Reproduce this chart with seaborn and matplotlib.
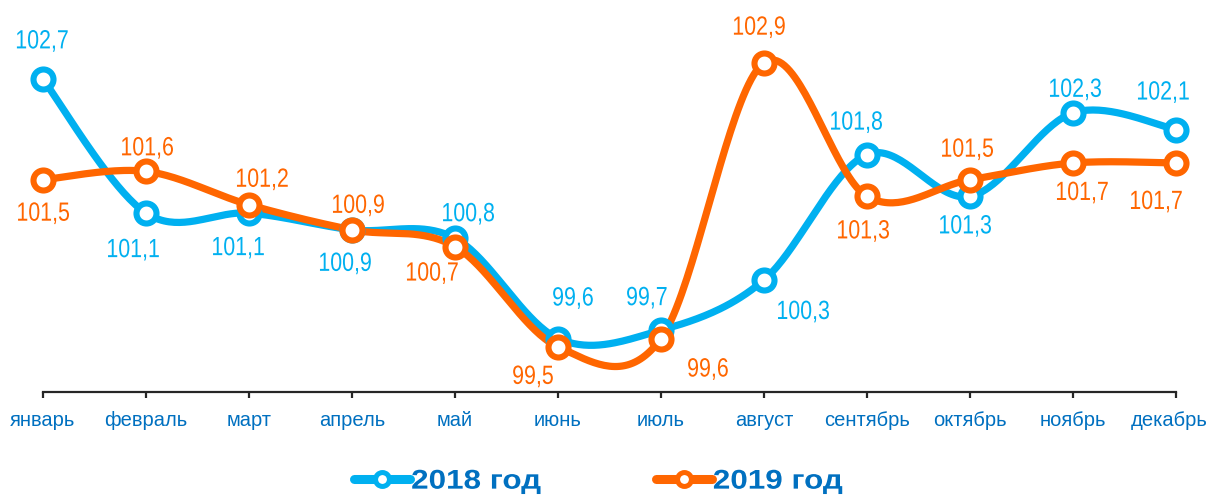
import numpy as np
import pandas as pd
import seaborn as sns
import matplotlib
matplotlib.use("Agg")
import matplotlib.pyplot as plt
from matplotlib.lines import Line2D
from matplotlib.patheffects import AbstractPathEffect
from matplotlib.transforms import Affine2D, ScaledTranslation

# ---- data ----
months = ['январь', 'февраль', 'март', 'апрель', 'май', 'июнь',
          'июль', 'август', 'сентябрь', 'октябрь', 'ноябрь', 'декабрь']
values_2018 = [102.7, 101.1, 101.1, 100.9, 100.8, 99.6, 99.7, 100.3, 101.8, 101.3, 102.3, 102.1]
values_2019 = [101.5, 101.6, 101.2, 100.9, 100.7, 99.5, 99.6, 102.9, 101.3, 101.5, 101.7, 101.7]
series_names = ['2018 год', '2019 год']

# ---- style ----
colors = ['#00B0F0', '#FF6600']
tick_color = '#0070C0'
label_offsets = [
    [(-1, 38), (-13, -37), (-11, -35), (-7, -34), (13, 24), (15, 40),
     (-14, 32), (39, -32), (-11, 32), (-5, -30), (2, 23), (-13, 37)],
    [(0, -34), (1, 23), (13, 25), (6, 24), (-23, -27), (-25, -30),
     (47, -31), (-5, 35), (-4, -35), (-3, 30), (9, -30), (-20, -39)],
]

sns.set_theme(style='white')
plt.rcParams['font.family'] = ['Liberation Sans', 'DejaVu Sans']


class Stretch(AbstractPathEffect):
    """Scale glyph outlines horizontally (narrow / wide lettering)."""

    def __init__(self, sx, anchor='center'):
        super().__init__()
        self.sx = sx
        self.anchor = anchor

    def draw_path(self, renderer, gc, tpath, affine, rgbFace=None):
        ext = tpath.get_extents()
        cx = (ext.x0 + ext.x1) / 2 if self.anchor == 'center' else ext.x0
        t = Affine2D().translate(-cx, 0).scale(self.sx, 1).translate(cx, 0) + affine
        renderer.draw_path(gc, tpath, t, rgbFace)


def smooth_curve(xs, ys, n=40):
    """Excel-style smoothed line through the points (Bezier, Catmull-Rom tangents)."""
    P = np.column_stack([xs, ys]).astype(float)
    E = np.vstack([P[0], P, P[-1]])
    segs = []
    for i in range(len(P) - 1):
        p0, p1, p2, p3 = E[i], E[i + 1], E[i + 2], E[i + 3]
        c1 = p1 + (p2 - p0) / 6.0
        c2 = p2 - (p3 - p1) / 6.0
        t = np.linspace(0, 1, n, endpoint=(i == len(P) - 2))[:, None]
        segs.append((1 - t) ** 3 * p1 + 3 * (1 - t) ** 2 * t * c1
                    + 3 * (1 - t) * t ** 2 * c2 + t ** 3 * p2)
    return np.vstack(segs)


fig = plt.figure(figsize=(12.11, 4.95), dpi=100)
ax = fig.add_axes([43 / 1211, 103 / 495, (1176 - 43) / 1211, 392 / 495])

xs = np.arange(len(months))
for vals, name, col, offs in zip([values_2018, values_2019], series_names, colors, label_offsets):
    curve = smooth_curve(xs, vals)
    df_c = pd.DataFrame({'x': curve[:, 0], 'y': curve[:, 1]})
    sns.lineplot(data=df_c, x='x', y='y', sort=False, estimator=None, ax=ax,
                 color=col, lw=5.2, clip_on=False, solid_capstyle='round', zorder=3)
    ax.plot(xs, vals, ls='none', marker='o', ms=14.4, mew=4.4, mfc='white',
            mec=col, clip_on=False, zorder=4)
    for x, v, (dx, dy) in zip(xs, vals, offs):
        ax.annotate(f'{v:.1f}'.replace('.', ','), (x, v), xytext=(dx, dy),
                    textcoords='offset pixels', ha='center', va='center',
                    color=col, fontsize=19, zorder=5,
                    path_effects=[Stretch(0.81)])

ax.set_xlim(0, 11)
ax.set_ylim(98.96, 103.65)
ax.set_xticks(xs)
ax.set_xticklabels(months)
ax.set_yticks([])
ax.set_xlabel('')
ax.set_ylabel('')
for s in ['top', 'right', 'left']:
    ax.spines[s].set_visible(False)
ax.spines['bottom'].set_color('#262626')
ax.spines['bottom'].set_linewidth(1.6)
ax.tick_params(axis='x', bottom=True, direction='out', length=4.5, width=1.6,
               color='#262626', pad=9.5, labelsize=14.5, labelcolor=tick_color)
# keep the last month label inside the picture, as in the original
last = ax.get_xticklabels()[-1]
last.set_transform(last.get_transform() + ScaledTranslation(-7 / 100, 0, fig.dpi_scale_trans))
ax.patch.set_alpha(0)

handles = [Line2D([0], [0], color=c, lw=6.5, marker='o', ms=10, mew=3.6,
                  mfc='white', mec=c, solid_capstyle='round') for c in colors]
leg = fig.legend(handles, series_names, loc='center', bbox_to_anchor=(0.487, 0.027),
                 ncol=2, frameon=False, handlelength=2.05, handletextpad=0.05,
                 columnspacing=4.9, prop={'weight': 'bold', 'size': 19.5})
for t in leg.get_texts():
    t.set_color(tick_color)
    t.set_path_effects([Stretch(1.16, anchor='left')])

fig.savefig('out.png', dpi=100)
